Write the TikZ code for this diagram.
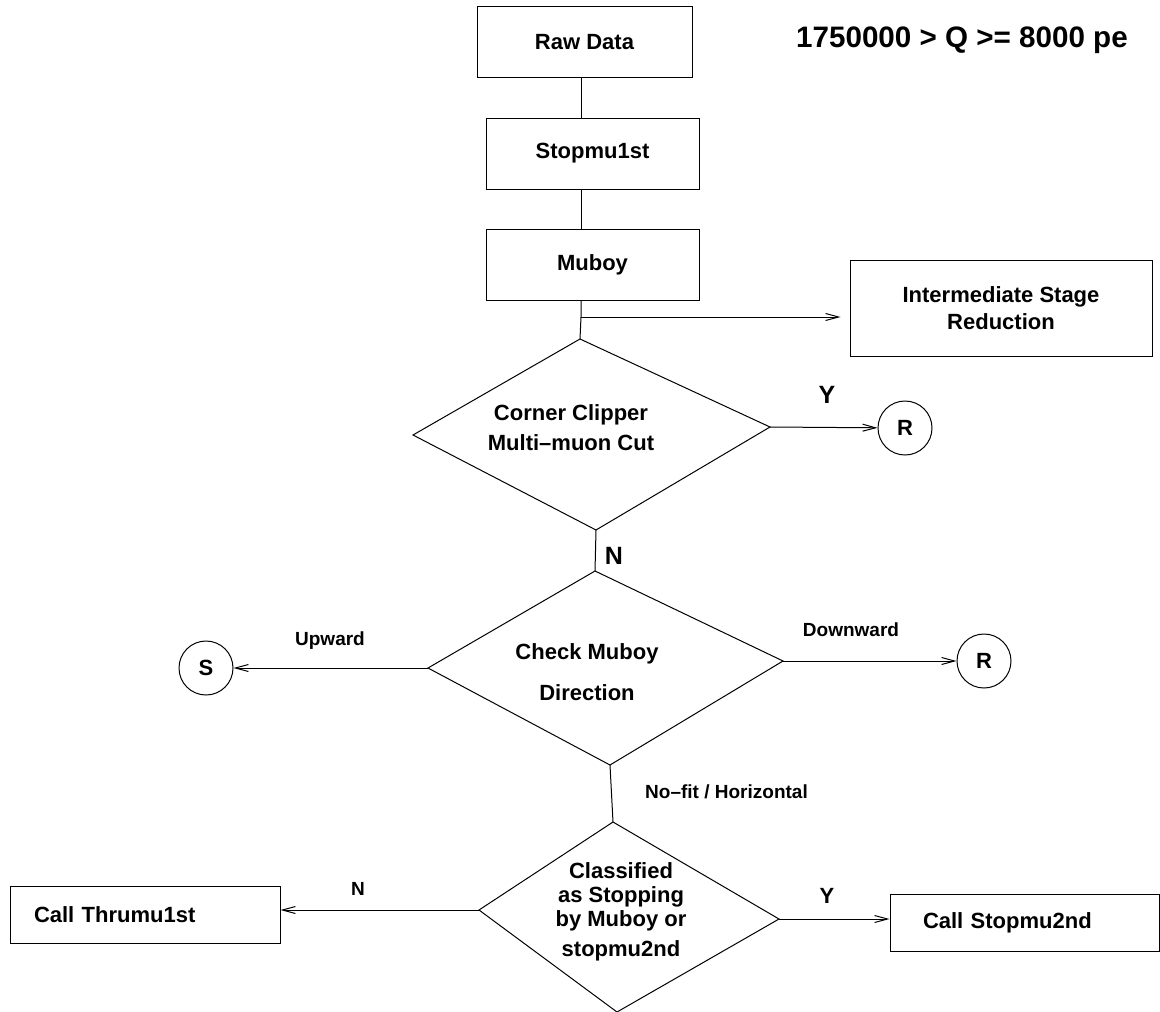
\documentclass[tikz,border=0pt]{standalone}
\usepackage{fontspec}
\setmainfont{Liberation Sans}
\usetikzlibrary{arrows.meta}
\newcommand\boxfont{\fontsize{11}{13}\selectfont\bfseries}
\newcommand\labfont{\fontsize{9.5}{11}\selectfont\bfseries}
\newcommand\ynfont{\fontsize{12.5}{15}\selectfont\bfseries}
\newcommand\titlefont{\fontsize{14.8}{17}\selectfont\bfseries}
\tikzset{
  stage/.style={draw, line width=0.5pt, inner sep=0pt, font=\boxfont},
  decision/.style={line width=0.5pt},
  dtext/.style={align=center, inner sep=0pt, font=\boxfont},
  term/.style={draw, circle, line width=0.5pt, minimum size=27pt, inner sep=0pt, font=\boxfont},
  link/.style={line width=0.5pt},
  flow/.style={line width=0.5pt, -{Straight Barb[length=6.5pt,width=3.5pt]}},
  lab/.style={font=\labfont, anchor=base, inner sep=0pt},
  yn/.style={font=\ynfont, anchor=base, inner sep=0pt},
}

\begin{document}
\begin{tikzpicture}[x=0.5pt, y=-0.5pt]
  \useasboundingbox (0,0) rectangle (1160,1011);

  \node[font=\titlefont, anchor=base, inner sep=0pt] (title) at (962,48) {1750000 > Q >= 8000 pe};

  % processing chain
  \node[stage, minimum width=107.5pt, minimum height=35.5pt] (raw) at (584.5,42.5) {Raw Data};
  \node[stage, minimum width=106.5pt, minimum height=35.5pt] (stop1) at (592.5,153.5) {Stopmu1st};
  \node[stage, minimum width=106.5pt, minimum height=35.5pt] (muboy) at (592.5,264.5) {Muboy};
  \node[stage, minimum width=151pt, minimum height=48pt, align=center] (inter) at (1001,308) {Intermediate Stage\\[0.5pt]Reduction};

  % decision diamonds
  \coordinate (cc-n) at (580,339);  % top
  \coordinate (cc-e) at (770,427);  % right
  \coordinate (cc-s) at (596,530);  % bottom
  \coordinate (cc-w) at (413,435);  % left
  \draw[decision] (cc-n) -- (cc-e) -- (cc-s) -- (cc-w) -- cycle;
  \node[dtext] (cc) at (571,427.5) {Corner Clipper\\[2pt]Multi--muon Cut};

  \coordinate (dir-n) at (595,571);
  \coordinate (dir-e) at (783,661);
  \coordinate (dir-s) at (610,765);
  \coordinate (dir-w) at (428,668);
  \draw[decision] (dir-n) -- (dir-e) -- (dir-s) -- (dir-w) -- cycle;
  \node[dtext] (dir) at (587,672) {Check Muboy\\[7.5pt]Direction};

  \coordinate (cls-n) at (613,822);
  \coordinate (cls-e) at (779,919);
  \coordinate (cls-s) at (617,1012);
  \coordinate (cls-w) at (479,910);
  \draw[decision] (cls-n) -- (cls-e) -- (cls-s) -- (cls-w) -- cycle;
  \node[dtext] (cls) at (621,912) {Classified\\[-1pt]as Stopping\\[-1pt]by Muboy or\\[2pt]stopmu2nd};

  % outcomes
  \node[term] (rtop) at (905,428) {R};
  \node[term] (rdown) at (984,661) {R};
  \node[term] (stopS) at (206,668) {S};
  \node[stage, minimum width=135pt, minimum height=28.5pt, text width=111pt, align=left] (thru) at (145,914.5) {Call Thrumu1st};
  \node[stage, minimum width=134.5pt, minimum height=28.5pt, text width=101.5pt, align=left] (stop2) at (1024.5,922.5) {Call Stopmu2nd};

  % connectors
  \coordinate (spine) at (581,0);
  \coordinate (split) at (581,317);
  \draw[link] (raw.south -| spine) -- (stop1.north -| spine);
  \draw[link] (stop1.south -| spine) -- (muboy.north -| spine);
  \draw[link] (muboy.south -| spine) -- (split) -- (cc-n);
  \draw[flow, shorten >=4.5pt] (split) -- (split -| inter.west);
  \draw[flow] (cc-e) -- (rtop);
  \draw[link] (cc-s) -- (dir-n);
  \draw[flow] (dir-e) -- (rdown);
  \draw[flow] (dir-w) -- (stopS);
  \draw[link] (dir-s) -- (cls-n);
  \draw[flow] (cls-w) -- (cls-w -| thru.east);
  \draw[flow] (cls-e) -- (cls-e -| stop2.west);

  % branch labels
  \node[yn] (ytop) at (827,403) {Y};
  \node[yn] (ntop) at (614,564) {N};
  \node[lab] (up) at (330,645) {Upward};
  \node[lab] (down) at (851,636) {Downward};
  \node[lab] (nofit) at (726.5,798.5) {No--fit / Horizontal};
  \node[lab] (nbot) at (358,895) {N};
  \node[yn, font=\boxfont] (ybot) at (827,903) {Y};
\end{tikzpicture}
\end{document}
